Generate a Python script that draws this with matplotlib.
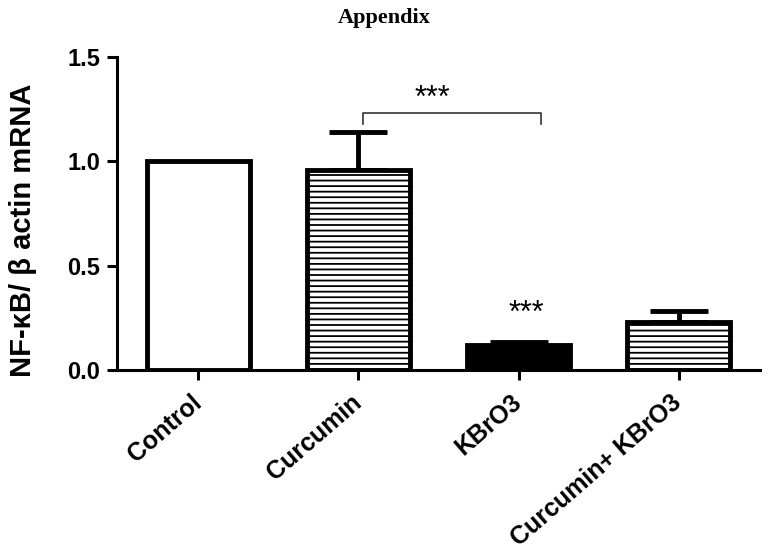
# NF-kB / beta actin mRNA bar chart

import matplotlib.pyplot as plt
import numpy as np

plt.rcParams['font.family'] = ['Liberation Sans', 'DejaVu Sans']
plt.rcParams['hatch.linewidth'] = 1.3

# data
groups = ['Control', 'Curcumin', 'KBrO3', 'Curcumin+ KBrO3']
means = [1.0, 0.96, 0.12, 0.23]
sem = [0.0, 0.18, 0.015, 0.05]
fills = ['white', 'white', 'black', 'white']
hatches = ['', '---', '', '---']

fig = plt.figure(figsize=(7.68, 5.52), dpi=100)
ax = fig.add_axes([0.152, 0.33, 0.838, 0.567])

x = np.arange(len(groups))
bar_width = 0.64

for i in range(len(groups)):
    ax.bar(x[i], means[i], width=bar_width, color=fills[i], edgecolor='black',
           linewidth=3.5, hatch=hatches[i], zorder=2)
    if sem[i] > 0:
        ax.errorbar(x[i], means[i], yerr=[[0], [sem[i]]], fmt='none', ecolor='black',
                    elinewidth=3.5, capsize=21, capthick=3.5, zorder=1)

# significance bracket Curcumin vs KBrO3
ax.plot([1.03, 1.03, 2.14, 2.14], [1.18, 1.23, 1.23, 1.18], color='#333333', lw=1.2)
ax.text(1.46, 1.30, '***', ha='center', va='center', fontsize=22)
ax.text(2.05, 0.27, '***', ha='center', va='center', fontsize=22)

ax.set_xlim(-0.51, 3.51)
ax.set_ylim(0, 1.5)
ax.set_yticks([0.0, 0.5, 1.0, 1.5])
ax.set_yticklabels(['0.0', '0.5', '1.0', '1.5'], fontsize=17, fontweight='bold')
ax.set_xticks(x)
ax.set_xticklabels(groups, rotation=41, ha='right', va='center', rotation_mode='anchor',
                   fontsize=18, fontweight='bold')
ax.set_ylabel('NF-κB/ β actin mRNA', fontsize=21, fontweight='bold', va='center')
ax.yaxis.set_label_coords(-0.146, 0.447)

for side in ['top', 'right']:
    ax.spines[side].set_visible(False)
for side in ['left', 'bottom']:
    ax.spines[side].set_linewidth(2.2)
ax.tick_params(axis='both', direction='out', length=7, width=2.2, pad=5)
ax.tick_params(axis='x', pad=14)

fig.text(0.5, 0.967, 'Appendix', ha='center', va='center', fontsize=16,
         fontweight='bold', family='Liberation Serif')

plt.savefig('out.png', dpi=100)
